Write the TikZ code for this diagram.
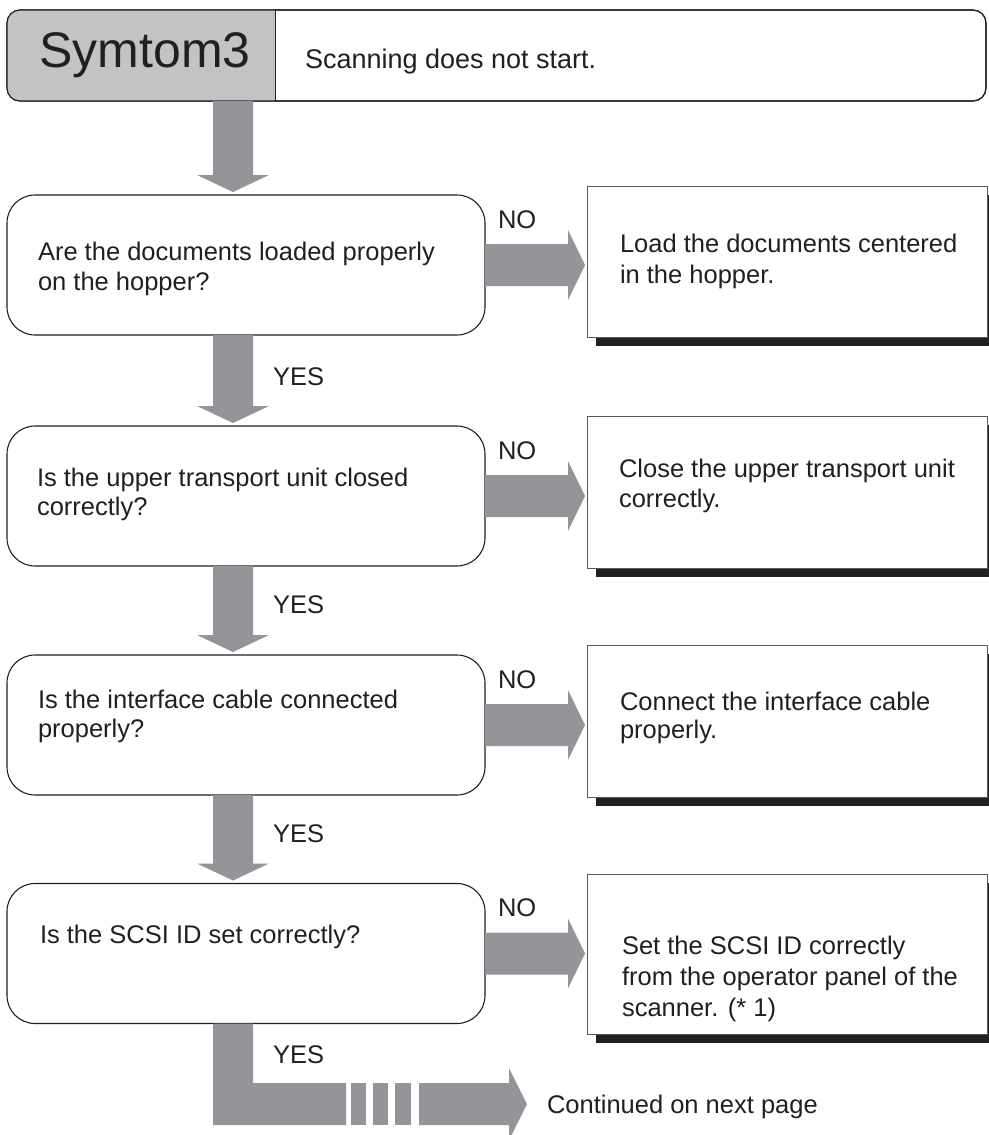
\documentclass[tikz,border=0pt]{standalone}
\usepackage{fontspec}
\setmainfont{Liberation Sans}
\usetikzlibrary{calc}
\definecolor{ink}{HTML}{231F20}
\definecolor{arrowgray}{HTML}{939598}
\definecolor{headgray}{HTML}{C2C3C5}
\definecolor{boxline}{HTML}{58595B}
\tikzset{
  every node/.style={inner sep=0pt, outer sep=0pt},
  hdrbox/.style={draw=ink, line width=1.1pt, rounded corners=13pt, fill=white, minimum width=979pt, minimum height=91pt},
  decbox/.style={draw=ink, line width=1.1pt, rounded corners=28pt, fill=white, minimum width=478pt, minimum height=140pt},
  actbox/.style={draw=boxline, line width=1pt, fill=white, minimum width=400pt},
  shadowfill/.style={fill=ink},
  txt/.style={anchor=base west, text=ink, font=\fontsize{25.5}{30}\selectfont},
  subtxt/.style={anchor=base west, text=ink, font=\fontsize{27}{30}\selectfont},
  bigtxt/.style={anchor=base, text=ink, font=\fontsize{50}{54}\selectfont},
  fatarrow/.style={fill=arrowgray},
}
\newcommand\fatdown[2]{\fill[fatarrow] let \p1=(#1), \p2=(#2) in
  (\x1-20pt,\y1) -- (\x1+20pt,\y1) -- (\x1+20pt,\y2+17pt) -- (\x1+36pt,\y2+17pt) --
  (\x1,\y2) -- (\x1-36pt,\y2+17pt) -- (\x1-20pt,\y2+17pt) -- cycle;}
\newcommand\fatright[2]{\fill[fatarrow] let \p1=(#1), \p2=(#2) in
  (\x1,\y1+21pt) -- (\x2-17pt,\y1+21pt) -- (\x2-17pt,\y1+35pt) -- (\x2,\y1) --
  (\x2-17pt,\y1-35pt) -- (\x2-17pt,\y1-21pt) -- (\x1,\y1-21pt) -- cycle;}
\newcommand\actshadow[1]{\fill[shadowfill] ($(#1.north west)+(9,9)$) rectangle ($(#1.south east)+(9,9)$);}
\begin{document}
\begin{tikzpicture}[x=1pt,y=-1pt]
\useasboundingbox (0,0) rectangle (988,1135);
\fill[white] (0,0) rectangle (988,1135);

% header
\node[hdrbox] (h) at (496.5,55.5) {};
\begin{scope}
  \clip (0,0) rectangle (275,120);
  \fill[headgray, rounded corners=13pt] (h.north west) rectangle (h.south east);
\end{scope}
\draw[ink, line width=1.1pt, rounded corners=13pt] (h.north west) rectangle (h.south east);
\coordinate (hdiv) at (275,0);
\draw[ink, line width=1pt] (hdiv |- h.north) -- (hdiv |- h.south);
\node[bigtxt] (htitle) at (145,67) {Symtom3};
\node[subtxt] (hsub) at (305,68) {Scanning does not start.};

% decision boxes
\node[decbox] (b1) at (246,265) {};
\node[decbox] (b2) at (246,496) {};
\node[decbox] (b3) at (246,725) {};
\node[decbox] (b4) at (246,953.5) {};

\node[txt] (t1a) at (38,260) {Are the documents loaded properly};
\node[txt] (t1b) at (38,290) {on the hopper?};
\node[txt] (t2a) at (37,486) {Is the upper transport unit closed};
\node[txt] (t2b) at (37,515) {correctly?};
\node[txt] (t3a) at (38,708) {Is the interface cable connected};
\node[txt] (t3b) at (38,737) {properly?};
\node[txt] (t4a) at (40,943) {Is the SCSI ID set correctly?};

% action boxes with shadows
\coordinate (a1c) at (787,261.5);
\coordinate (a2c) at (787,492);
\coordinate (a3c) at (787,721);
\coordinate (a4c) at (787,954);
\path (a1c) node[actbox, minimum height=151pt, draw=none, fill=none] (a1p) {};
\path (a2c) node[actbox, minimum height=152pt, draw=none, fill=none] (a2p) {};
\path (a3c) node[actbox, minimum height=152pt, draw=none, fill=none] (a3p) {};
\path (a4c) node[actbox, minimum height=160pt, draw=none, fill=none] (a4p) {};
\actshadow{a1p}
\actshadow{a2p}
\actshadow{a3p}
\actshadow{a4p}
\node[actbox, minimum height=151pt] (a1) at (a1c) {};
\node[actbox, minimum height=152pt] (a2) at (a2c) {};
\node[actbox, minimum height=152pt] (a3) at (a3c) {};
\node[actbox, minimum height=160pt] (a4) at (a4c) {};

\node[txt] (s1a) at (620,252.7) {Load the documents centered};
\node[txt] (s1b) at (620,283) {in the hopper.};
\node[txt] (s2a) at (619,477) {Close the upper transport unit};
\node[txt] (s2b) at (619,507) {correctly.};
\node[txt] (s3a) at (620,710) {Connect the interface cable};
\node[txt] (s3b) at (620,738) {properly.};
\node[txt] (s4a) at (622,954) {Set the SCSI ID correctly};
\node[txt] (s4b) at (622,985) {from the operator panel of the};
\node[txt] (s4c) at (622,1016) {scanner. (* 1)};

% down arrows
\coordinate (c0) at (233,0);
\fatdown{c0 |- h.south}{$(c0 |- b1.north)+(0,-3)$}
\fatdown{c0 |- b1.south}{$(c0 |- b2.north)+(0,-3)$}
\fatdown{c0 |- b2.south}{$(c0 |- b3.north)+(0,-3)$}
\fatdown{c0 |- b3.south}{$(c0 |- b4.north)+(0,-3)$}

% NO arrows
\fatright{b1.east}{$(a1.west |- b1.east)+(-2,0)$}
\fatright{b2.east}{$(a2.west |- b2.east)+(-2,0)$}
\fatright{b3.east}{$(a3.west |- b3.east)+(-2,0)$}
\fatright{b4.east}{$(a4.west |- b4.east)+(-2,0)$}

% labels
\node[txt] (no1) at (498,228) {NO};
\node[txt] (no2) at (498,459) {NO};
\node[txt] (no3) at (498,688) {NO};
\node[txt] (no4) at (498,916.5) {NO};
\node[txt] (yes1) at (273,385) {YES};
\node[txt] (yes2) at (273,613) {YES};
\node[txt] (yes3) at (273,842) {YES};
\node[txt] (yes4) at (273,1063) {YES};

% final L-shaped broken arrow
\path (c0 |- b4.south) coordinate (ys);
\fill[fatarrow] ($(ys)+(-20,0)$) -- ($(ys)+(20,0)$) -- (253,1083) -- (346,1083) -- (346,1125) -- (213,1125) -- cycle;
\fill[fatarrow] (351,1083) rectangle (366,1125);
\fill[fatarrow] (373,1083) rectangle (388,1125);
\fill[fatarrow] (395,1083) rectangle (411,1125);
\coordinate (ctip) at (527,1104);
\fill[fatarrow] (419,1083) -- (509,1083) -- (509,1068) -- (ctip) -- (509,1140) -- (509,1125) -- (419,1125) -- cycle;
\node[txt] (cont) at (547,1113) {Continued on next page};
\end{tikzpicture}
\end{document}
